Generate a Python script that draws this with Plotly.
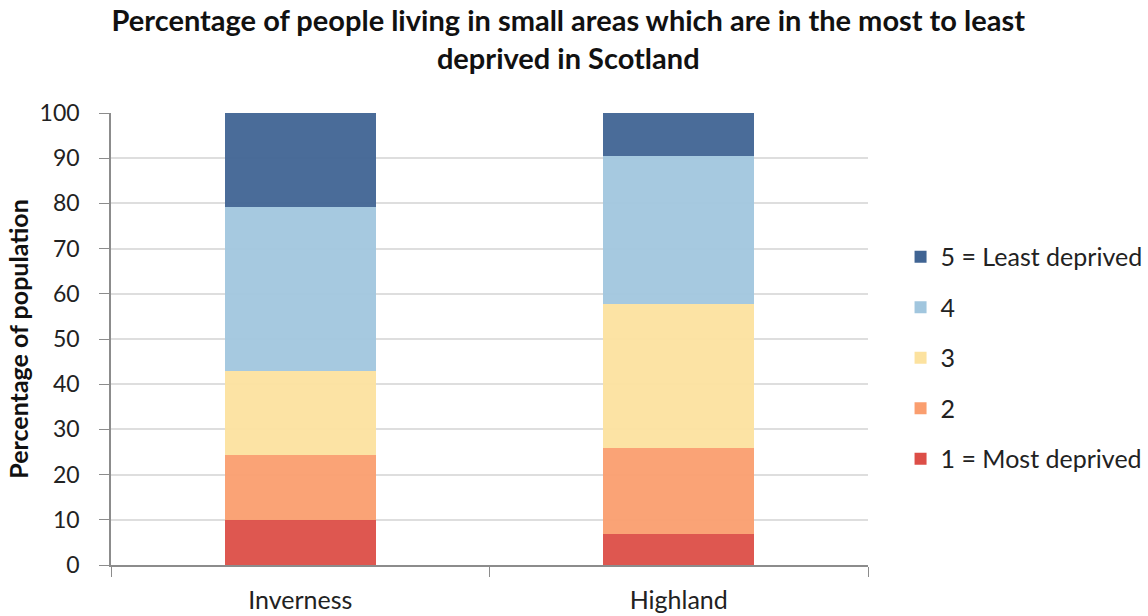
import plotly.graph_objects as go

# Share of population by SIMD quintile (percent)
areas = ["Inverness", "Highland"]
quintile_names = ["1 = Most deprived", "2", "3", "4", "5 = Least deprived"]
q1 = [9.9, 6.9]
q2 = [14.4, 18.9]
q3 = [18.7, 31.9]
q4 = [36.3, 32.8]
q5 = [20.7, 9.5]
y_ticks = [0, 10, 20, 30, 40, 50, 60, 70, 80, 90, 100]

series = [q1, q2, q3, q4, q5]
colors = ["#dc4e47", "#fa9e6f", "#fce29f", "#a1c6de", "#406493"]

font_family = "Lato, 'Open Sans', sans-serif"

fig = go.Figure()
for i, (name, vals, col) in enumerate(zip(quintile_names, series, colors)):
    fig.add_trace(go.Bar(
        x=areas, y=vals, name=name,
        marker=dict(color=col, opacity=0.95, line=dict(width=0)),
        legendgroup=f"g{i}",
        legendrank=10 - i,
    ))

fig.update_layout(
    width=1148, height=616,
    barmode="stack",
    bargap=0.6,
    paper_bgcolor="white",
    plot_bgcolor="white",
    margin=dict(l=111, r=280, t=113, b=51, autoexpand=False),
    font=dict(family=font_family, color="#222222", size=24),
    title=dict(
        text="<b>Percentage of people living in small areas which are in the most to least<br>deprived in Scotland</b>",
        x=0.495, xanchor="center", y=0.95, yanchor="top",
        font=dict(size=29, color="#111111"),
    ),
    legend=dict(
        x=1.043, xanchor="left", y=0.458, yanchor="middle",
        traceorder="grouped",
        tracegroupgap=15,
        font=dict(size=25, color="#222222"),
        itemwidth=30,
    ),
    showlegend=True,
)

fig.update_yaxes(
    range=[0, 100],
    tickvals=y_ticks,
    showgrid=True, gridcolor="#dedede", gridwidth=1.5,
    showline=True, linecolor="#8c8c8c", linewidth=1.5,
    ticks="outside", ticklen=10, tickcolor="#8c8c8c",
    ticklabelstandoff=15,
    tickfont=dict(size=23, color="#222222"),
    title=dict(text="<b>Percentage of population</b>", font=dict(size=25, color="#111111"), standoff=4),
    zeroline=False,
)
fig.update_xaxes(
    showline=True, linecolor="#8c8c8c", linewidth=1.5,
    ticks="outside", ticklen=10, tickcolor="#8c8c8c",
    tickson="boundaries",
    ticklabelstandoff=12,
    tickfont=dict(size=25, color="#222222"),
)

fig.write_html("out.html")
